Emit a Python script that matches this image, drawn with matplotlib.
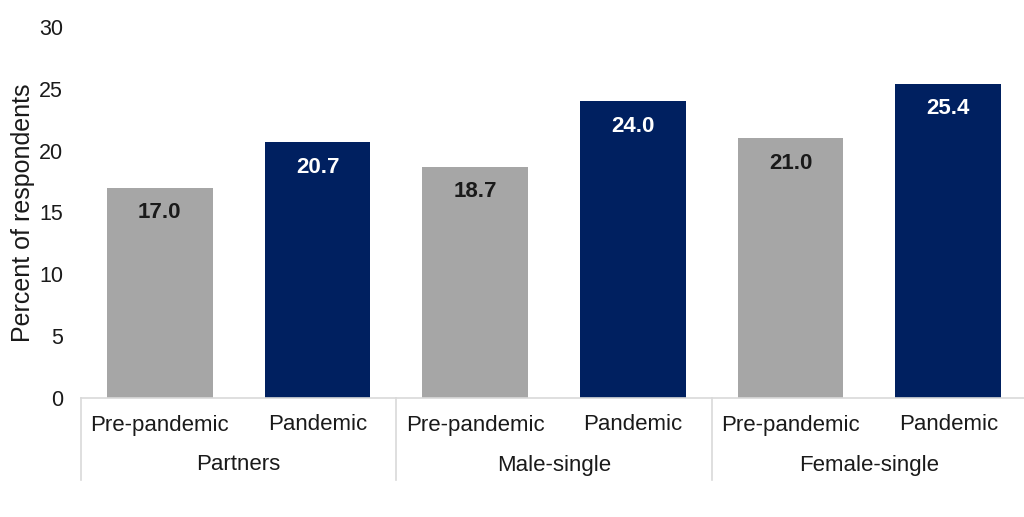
import matplotlib
matplotlib.use("Agg")
import matplotlib.pyplot as plt
import matplotlib.transforms as mtransforms

groups = ["Partners", "Male-single", "Female-single"]
periods = ["Pre-pandemic", "Pandemic"]
values = [17.0, 20.7, 18.7, 24.0, 21.0, 25.4]
colors_by_period = ["#A6A6A6", "#002060"]
label_colors = ["#1a1a1a", "#ffffff"]

plt.rcParams["font.family"] = ["Liberation Sans", "DejaVu Sans"]

fig = plt.figure(figsize=(10.24, 5.17), dpi=100)
ax = fig.add_axes([81 / 1024, (517 - 398) / 517, (1024 - 81) / 1024, 371 / 517])

n = len(values)
xs = list(range(n))
bar_colors = [colors_by_period[i % 2] for i in range(n)]
bars = ax.bar(xs, values, width=0.67, color=bar_colors, zorder=2)

for i, (b, v) in enumerate(zip(bars, values)):
    ax.annotate(f"{v:.1f}", (b.get_x() + b.get_width() / 2, v),
                xytext=(0, -18), textcoords="offset points",
                ha="center", va="center", fontsize=16, fontweight="bold",
                color=label_colors[i % 2])

ax.set_ylim(0, 30)
ax.set_yticks([0, 5, 10, 15, 20, 25, 30])
ax.set_xlim(-0.5, 5.48)
ax.set_xticks([])
ax.tick_params(axis="y", length=0, labelsize=15.5, pad=13, labelcolor="#1a1a1a")
for s in ["left", "right", "top"]:
    ax.spines[s].set_visible(False)
ax.spines["bottom"].set_color("#D9D9D9")
ax.spines["bottom"].set_linewidth(1.2)

ax.set_ylabel("Percent of respondents", fontsize=18, color="#1a1a1a", labelpad=3)

trans = mtransforms.blended_transform_factory(ax.transData, ax.transAxes)
h_px = 371
for i in range(n):
    ax.text(i, -27 / h_px, periods[i % 2], transform=trans, ha="center", va="center",
            fontsize=16, color="#1a1a1a")
for g, name in enumerate(groups):
    ax.text(2 * g + 0.5, -67 / h_px, name, transform=trans, ha="center", va="center",
            fontsize=16, color="#1a1a1a")
for xb in [-0.5, 1.5, 3.5, 5.5]:
    ax.plot([xb, xb], [0, -82 / h_px], transform=trans, color="#D9D9D9",
            lw=1.2, clip_on=False)

fig.savefig("out.png", dpi=100)
